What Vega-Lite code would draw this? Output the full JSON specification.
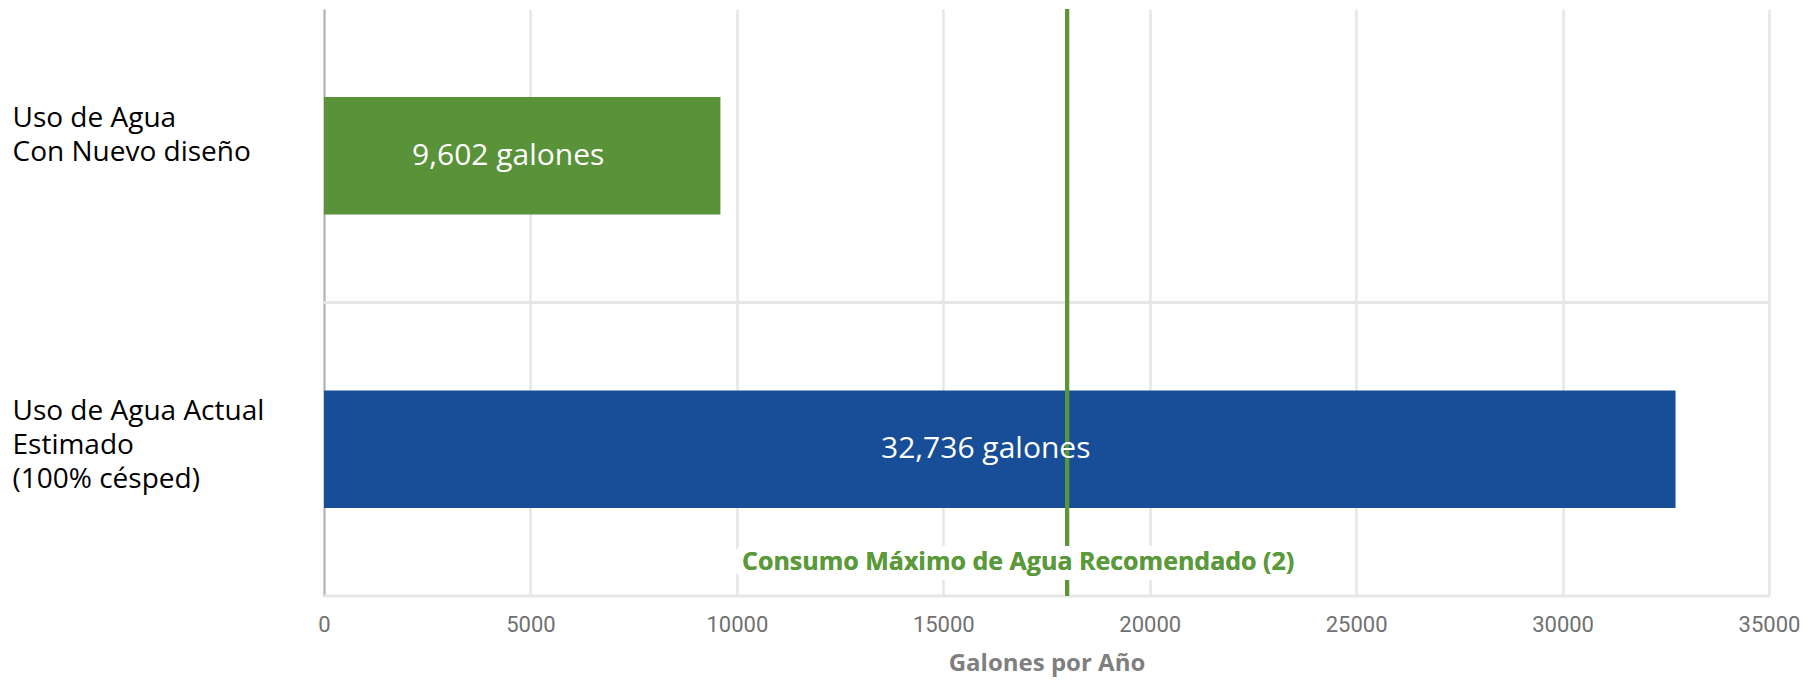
{
  "$schema": "https://vega.github.io/schema/vega-lite/v6.json",
  "width": 1445,
  "height": 587,
  "autosize": {"type": "none"},
  "padding": {"left": 324, "top": 9, "right": 47, "bottom": 88},
  "background": "white",
  "data": {
    "values": [
      {"categoria": "Uso de Agua|Con Nuevo diseño", "galones": 9602, "etiqueta": "9,602 galones", "tipo": "nuevo"},
      {"categoria": "Uso de Agua Actual|Estimado|(100% césped)", "galones": 32736, "etiqueta": "32,736 galones", "tipo": "actual"}
    ]
  },
  "config": {
    "view": {"stroke": null},
    "axisX": {
      "grid": true, "gridColor": "#e6e6e6", "gridWidth": 2.5,
      "domain": false, "ticks": false,
      "labelFont": "Roboto", "labelFontSize": 22, "labelColor": "#707070",
      "labelPadding": 18, "labelFlush": false, "labelOverlap": false,
      "titleFont": "Open Sans", "titleFontSize": 24, "titleFontWeight": "bold",
      "titleColor": "#7f7f7f", "titlePadding": 16
    },
    "axisY": {
      "grid": false, "domain": true, "domainColor": "#b3b3b3", "domainWidth": 2,
      "ticks": false, "labelAlign": "left", "labelBaseline": "top", "labelOffset": -51,
      "labelPadding": 312, "labelLimit": 400,
      "labelFont": "Open Sans", "labelFontSize": 28, "labelColor": "#000000",
      "labelLineHeight": 34
    }
  },
  "layer": [
    {
      "layer": [
        {
          "mark": {"type": "rule", "color": "#e6e6e6", "strokeWidth": 3},
          "encoding": {
            "y": {"field": "categoria", "type": "nominal", "sort": null, "bandPosition": 1}
          }
        },
        {
          "mark": {"type": "bar", "height": {"band": 0.4}},
          "encoding": {
            "x": {"field": "galones", "type": "quantitative",
                  "scale": {"domain": [0, 35000], "nice": false},
                  "axis": {"title": "Galones por Año", "values": [0,5000,10000,15000,20000,25000,30000,35000], "format": "d"}},
            "y": {"field": "categoria", "type": "nominal", "sort": null,
                  "scale": {"paddingInner": 0, "paddingOuter": 0},
                  "axis": {"title": null, "labelExpr": "split(datum.label, '|')"}},
            "color": {"field": "tipo", "type": "nominal",
                      "scale": {"domain": ["nuevo", "actual"], "range": ["#5a923a", "#174e97"]},
                      "legend": null}
          }
        },
        {
          "mark": {"type": "rule", "color": "#5a9638", "strokeWidth": 4},
          "encoding": {"x": {"datum": 18000}}
        },
        {
          "mark": {"type": "text", "text": "Consumo Máximo de Agua Recomendado (2)", "font": "Open Sans", "fontSize": 25, "fontWeight": "bold",
                   "fill": "white", "stroke": "white", "strokeWidth": 20, "strokeJoin": "round", "align": "center", "baseline": "middle", "dx": -49, "dy": 113},
          "encoding": {
            "x": {"datum": 18000},
            "y": {"datum": "Uso de Agua Actual|Estimado|(100% césped)"}
          }
        },
        {
          "mark": {"type": "text", "text": "Consumo Máximo de Agua Recomendado (2)", "font": "Open Sans", "fontSize": 25, "fontWeight": "bold",
                   "color": "#5a9a3a", "align": "center", "baseline": "middle", "dx": -49, "dy": 113},
          "encoding": {
            "x": {"datum": 18000},
            "y": {"datum": "Uso de Agua Actual|Estimado|(100% césped)"}
          }
        }
      ]
    },
    {
      "mark": {"type": "text", "color": "white", "font": "Open Sans", "fontSize": 30, "align": "center", "baseline": "middle", "dx": -14},
      "encoding": {
        "x": {"field": "galones", "type": "quantitative", "scale": {"domain": [0, 70000], "nice": false}, "axis": null},
        "y": {"field": "categoria", "type": "nominal", "sort": null},
        "text": {"field": "etiqueta", "type": "nominal"}
      }
    }
  ],
  "resolve": {"scale": {"x": "independent"}}
}
